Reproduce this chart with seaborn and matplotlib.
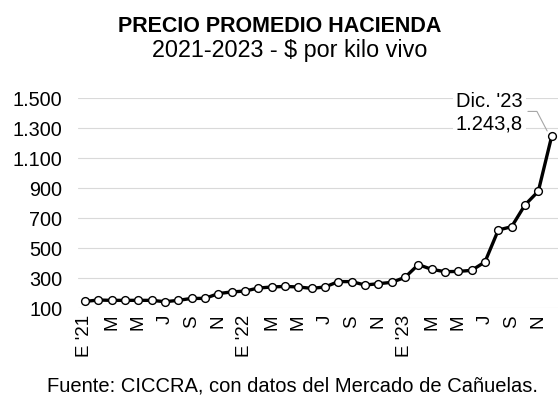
import matplotlib
matplotlib.use('Agg')
import matplotlib.pyplot as plt
import matplotlib.transforms as mtransforms
import seaborn as sns
import pandas as pd

# ---- data ----
months = [f"{m}-{y}" for y in (2021, 2022, 2023)
          for m in ("ene", "feb", "mar", "abr", "may", "jun",
                    "jul", "ago", "sep", "oct", "nov", "dic")]
prices = [144, 153, 151, 151, 151, 151, 142, 151, 164, 164, 196, 207,
          213, 233, 240, 244, 240, 231, 240, 276, 276, 253, 262, 271,
          304, 389, 358, 342, 344, 351, 407, 620, 642, 787, 878, 1243.8]
tick_labels = ["E '21", "M", "M", "J", "S", "N",
               "E '22", "M", "M", "J", "S", "N",
               "E '23", "M", "M", "J", "S", "N"]
yticks = [100, 300, 500, 700, 900, 1100, 1300, 1500]
title = "PRECIO PROMEDIO HACIENDA"
subtitle = "2021-2023 - $ por kilo vivo"
source = "Fuente: CICCRA, con datos del Mercado de Cañuelas."
annot_text = "Dic. '23\n1.243,8"

sns.set_theme(style="white")
plt.rcParams['font.family'] = ['Liberation Sans', 'DejaVu Sans']
plt.rcParams['text.color'] = 'black'
plt.rcParams['xtick.color'] = 'black'
plt.rcParams['ytick.color'] = 'black'

W, H = 559, 401
fig = plt.figure(figsize=(W / 100, H / 100), dpi=100)
ax = fig.add_axes([78.3 / W, 93 / H, 480 / W, 210 / H])

df = pd.DataFrame({"idx": range(len(months)), "mes": months, "precio": prices})
sns.lineplot(data=df, x="idx", y="precio", ax=ax, color="black", lw=2.4,
             marker="o", markersize=5.6, markerfacecolor="white",
             markeredgecolor="black", markeredgewidth=1.0, clip_on=False,
             zorder=3)

ax.set_xlim(-0.5, len(months) - 0.5)
ax.set_ylim(yticks[0], yticks[-1])
ax.set_yticks(yticks)
ax.set_yticklabels([f"{v:,}".replace(",", ".") for v in yticks])
ax.set_xticks(range(0, len(months), 2))
ax.set_xticklabels(tick_labels, rotation=90)
ax.tick_params(axis="y", length=0, pad=11.5, labelsize=14.3, labelcolor="black")
ax.tick_params(axis="x", length=0, pad=5, labelsize=13.5, labelcolor="black")
ax.set_xlabel("")
ax.set_ylabel("")
ax.grid(axis="y", color="#d9d9d9", lw=0.8)
ax.set_axisbelow(True)
for s in ax.spines.values():
    s.set_visible(False)

# annotation for last point
last_x, last_y = len(months) - 1, prices[-1]
ax.annotate(annot_text, xy=(last_x, last_y), xytext=(-28.7, 24),
            textcoords="offset pixels", ha="right", va="center",
            fontsize=14.5, linespacing=1.25, zorder=4, color="black",
            bbox=dict(boxstyle="square,pad=0.15", fc="white", ec="none"))
base = ax.transData.transform((last_x, last_y))
pts = [(-23.7, 25), (-14.7, 25), (-4.5, 5.5)]
disp = [(base[0] + dx, base[1] + dy) for dx, dy in pts]
inv = ax.transData.inverted()
data_pts = [inv.transform(p) for p in disp]
ax.plot([p[0] for p in data_pts], [p[1] for p in data_pts], color="#a6a6a6",
        lw=0.8, clip_on=False, zorder=2)

fig.text(0.5, 1 - 32 / H, title, ha="center", va="baseline",
         fontsize=15.5, fontweight="bold", color="black")
fig.text(290 / W, 1 - 57.3 / H, subtitle, ha="center", va="baseline",
         fontsize=16.8, color="black")
fig.text(292.5 / W, 1 - 391.7 / H, source, ha="center", va="baseline",
         fontsize=14.5, color="black")

fig.savefig("out.png", dpi=100, facecolor="white")
